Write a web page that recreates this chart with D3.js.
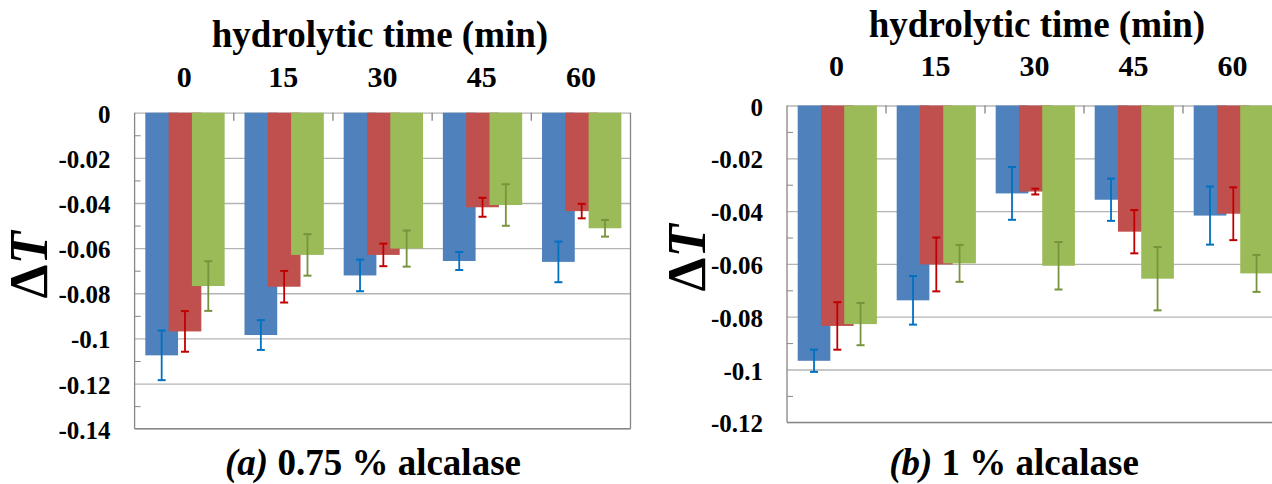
<!DOCTYPE html>
<html>
<head>
<meta charset="utf-8">
<script src="https://cdn.jsdelivr.net/npm/d3@7"></script>
<style>
  body { margin: 0; background: #fff; }
</style>
</head>
<body>
<div id="chartHolder"></div>
<script>
// hydrolytic time categories
const times = ["0", "15", "30", "45", "60"];

// (a) 0.75 % alcalase
const blueA = [-0.1075, -0.0985, -0.0721, -0.0657, -0.0661];
const blueAErr = [0.011, 0.0066, 0.007, 0.004, 0.009];
const redA = [-0.0969, -0.0771, -0.0630, -0.0419, -0.0436];
const redAErr = [0.009, 0.007, 0.005, 0.0042, 0.0032];
const greenA = [-0.0768, -0.0630, -0.0602, -0.0409, -0.0512];
const greenAErr = [0.011, 0.0092, 0.008, 0.0092, 0.0037];
const ticksA = [0, -0.02, -0.04, -0.06, -0.08, -0.1, -0.12, -0.14];

// (b) 1 % alcalase
const blueB = [-0.0967, -0.0738, -0.0333, -0.0357, -0.0417];
const blueBErr = [0.0042, 0.0092, 0.010, 0.008, 0.011];
const redB = [-0.0835, -0.0602, -0.0326, -0.0478, -0.0410];
const redBErr = [0.009, 0.0102, 0.0011, 0.0082, 0.010];
const greenB = [-0.0828, -0.0598, -0.0607, -0.0656, -0.0636];
const greenBErr = [0.008, 0.007, 0.009, 0.012, 0.007];
const ticksB = [0, -0.02, -0.04, -0.06, -0.08, -0.1, -0.12];

const barColors = ["#4F81BD", "#C0504D", "#9BBB59"];
const errColors = ["#0070C0", "#C00000", "#77933C"];
const FONT = "'Liberation Serif'";

const width = 1272;
const height = 484;

const svg = d3.select("#chartHolder")
  .append("svg")
  .attr("width", width)
  .attr("height", height);

function styleText(sel, size){
  sel.style("font-family", FONT)
     .style("font-weight", "bold")
     .style("font-size", size + "px")
     .style("fill", "#000");
}

function panel(cfg){
  const xScale = d3.scaleBand()
    .domain(times)
    .range([cfg.x0, cfg.x1])
    .padding(0);
  const bw = xScale.bandwidth();
  const yScale = d3.scaleLinear()
    .domain([cfg.yMin, 0])
    .range([cfg.yBot, cfg.yTop]);

  const g = svg.append("g");

  // gridlines
  g.append("g")
    .attr("transform", `translate(${cfg.x0},0)`)
    .call(d3.axisLeft(yScale).tickValues(cfg.ticks).tickSize(-(cfg.x1 - cfg.x0)).tickFormat(""))
    .call(a => a.select(".domain").remove())
    .selectAll("line")
    .attr("stroke", "#B4B4B4")
    .attr("stroke-width", 1.3);

  // minor ticks on the inner side
  const minor = d3.range(cfg.yMin + 0.01, 0, 0.02);
  g.append("g")
    .attr("transform", `translate(${cfg.x0},0)`)
    .call(d3.axisLeft(yScale).tickValues(minor).tickSize(-6).tickFormat(""))
    .call(a => a.select(".domain").remove())
    .selectAll("line")
    .attr("stroke", "#868686");

  // plot frame
  g.append("line")
    .attr("x1", cfg.x0).attr("x2", cfg.x0)
    .attr("y1", cfg.yTop).attr("y2", cfg.yBot)
    .attr("stroke", "#868686").attr("stroke-width", 1.3);
  g.append("line")
    .attr("x1", cfg.x1).attr("x2", cfg.x1)
    .attr("y1", cfg.yTop).attr("y2", cfg.yBot)
    .attr("stroke", "#868686").attr("stroke-width", 1.3);
  g.append("line")
    .attr("x1", cfg.x0).attr("x2", cfg.x1)
    .attr("y1", cfg.yBot).attr("y2", cfg.yBot)
    .attr("stroke", "#868686").attr("stroke-width", 1.3);

  // category boundary ticks
  g.selectAll(".ctick")
    .data(times.slice(1))
    .enter()
    .append("line")
    .attr("x1", d => xScale(d)).attr("x2", d => xScale(d))
    .attr("y1", cfg.yTop).attr("y2", cfg.yTop + 8)
    .attr("stroke", "#868686").attr("stroke-width", 1.3);

  // bars
  const series = cfg.series;
  const barW = bw * 0.33;
  const step = bw * 0.235;
  const off = bw * 0.108;
  series.forEach((s, si) => {
    g.selectAll(".bar" + si)
      .data(s.values)
      .enter()
      .append("rect")
      .attr("x", (d, i) => xScale(times[i]) + off + si * step)
      .attr("y", yScale(0))
      .attr("width", barW)
      .attr("height", d => yScale(d) - yScale(0))
      .style("fill", barColors[si]);
  });

  // error bars
  series.forEach((s, si) => {
    const cx = i => xScale(times[i]) + off + si * step + barW / 2;
    const eg = g.append("g").attr("stroke", errColors[si]).attr("stroke-width", 1.8);
    s.values.forEach((v, i) => {
      const top = yScale(v + s.err[i]);
      const bot = yScale(v - s.err[i]);
      eg.append("line").attr("x1", cx(i)).attr("x2", cx(i)).attr("y1", top).attr("y2", bot);
      eg.append("line").attr("x1", cx(i) - 4).attr("x2", cx(i) + 4).attr("y1", top).attr("y2", top).attr("stroke-width", 2);
      eg.append("line").attr("x1", cx(i) - 4).attr("x2", cx(i) + 4).attr("y1", bot).attr("y2", bot).attr("stroke-width", 2);
    });
  });

  // y tick labels
  g.append("g")
    .attr("transform", `translate(${cfg.x0},0)`)
    .call(d3.axisLeft(yScale).tickValues(cfg.ticks).tickSize(0).tickPadding(24)
      .tickFormat(d => d === 0 ? "0" : String(+d.toFixed(2))))
    .call(a => a.select(".domain").remove())
    .selectAll("text")
    .attr("dy", "0.38em")
    .call(styleText, 25);

  // category labels along the top
  g.append("g")
    .attr("transform", `translate(0,${cfg.yTop})`)
    .call(d3.axisTop(xScale).tickSize(0).tickPadding(cfg.catPad))
    .call(a => a.select(".domain").remove())
    .selectAll("text")
    .call(styleText, 30);

  // axis title
  g.append("text")
    .attr("x", cfg.titleX)
    .attr("y", cfg.titleY)
    .attr("text-anchor", "middle")
    .call(styleText, 37)
    .text("hydrolytic time (min)");

  // delta T
  const dt = g.append("text")
    .attr("transform", `translate(${cfg.dtX},${cfg.dtY}) rotate(-90)`)
    .attr("text-anchor", "middle")
    .attr("dy", "0.35em")
    .call(styleText, 54);
  dt.append("tspan").text("\u0394");
  dt.append("tspan").style("font-style", "italic").text("T");

  // caption
  const cap = g.append("text")
    .attr("x", cfg.capX)
    .attr("y", cfg.capY)
    .attr("text-anchor", "middle")
    .call(styleText, 37);
  cap.append("tspan").style("font-style", "italic").text(cfg.capTag);
  cap.append("tspan").text(cfg.capText);
}

panel({
  x0: 134.6, x1: 630.5, yTop: 112.7, yBot: 428.7, yMin: -0.14, ticks: ticksA,
  catPad: 25.5, titleX: 380, titleY: 47, dtX: 28, dtY: 265,
  capX: 373, capY: 475, capTag: "(a)", capText: " 0.75 % alcalase",
  series: [
    {values: blueA, err: blueAErr},
    {values: redA, err: redAErr},
    {values: greenA, err: greenAErr}
  ]
});

panel({
  x0: 787, x1: 1282, yTop: 105.5, yBot: 422.3, yMin: -0.12, ticks: ticksB,
  catPad: 29.5, titleX: 1037, titleY: 37, dtX: 686, dtY: 258,
  capX: 1014, capY: 475, capTag: "(b)", capText: " 1 % alcalase",
  series: [
    {values: blueB, err: blueBErr},
    {values: redB, err: redBErr},
    {values: greenB, err: greenBErr}
  ]
});
</script>
</body>
</html>
